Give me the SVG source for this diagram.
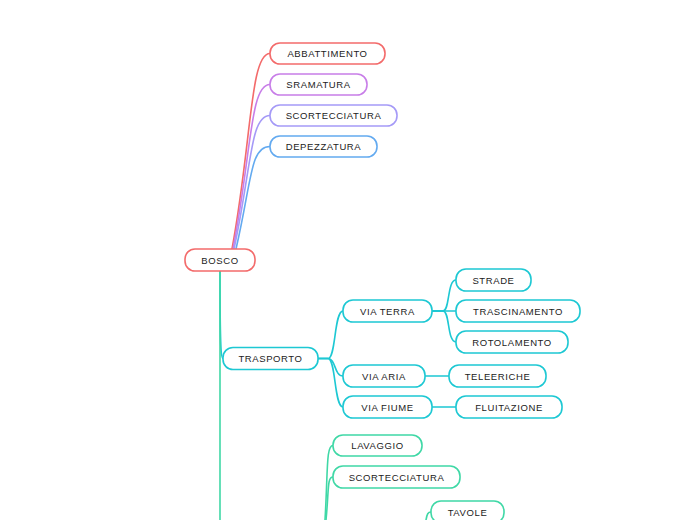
<svg xmlns="http://www.w3.org/2000/svg" width="697" height="520" viewBox="0 0 697 520">
<style>
.n rect{fill:#fff;stroke-width:1.6}
.n text{font-family:"Liberation Sans",Arial,sans-serif;font-size:9.5px;letter-spacing:0.6px;fill:#222;text-anchor:middle;dominant-baseline:central}
.red rect{stroke:#f36b6b}
.pur rect{stroke:#c87ee8}
.lav rect{stroke:#a59af7}
.blu rect{stroke:#63aaf0}
.tea rect{stroke:#1dc8d3}
.grn rect{stroke:#3fd8a6}
#connectors path{fill:none;stroke-width:1.6;stroke-linecap:round}
</style>
<rect width="697" height="520" fill="#fff"/>
<g id="connectors">
  <path d="M232,249 C252,140 250,53.5 270,53.5" stroke="#f36b6b" stroke-width="2.2"/>
  <path d="M233,249 C252,150 250,84.5 270,84.5" stroke="#c87ee8" stroke-width="1.8"/>
  <path d="M234,249 C252,165 250,115.5 270,115.5" stroke="#a59af7" stroke-width="1.8"/>
  <path d="M236,249 C252,180 250,146.5 270,146.5" stroke="#63aaf0" stroke-width="1.8"/>
  <path d="M220,271 C220,330 220,358.5 223,358.5" stroke="#1dc8d3" stroke-width="2.6"/>
  <path d="M220,271 L220,520" stroke="#3fd8a6" stroke-width="2.8"/>
  <path d="M318,358.5 L328,358.5 C336,358.5 334,311 343,311" stroke="#1dc8d3"/>
  <path d="M318,358.5 L328,358.5 C336,358.5 334,376 343,376" stroke="#1dc8d3"/>
  <path d="M318,358.5 L328,358.5 C336,358.5 334,407 343,407" stroke="#1dc8d3"/>
  <path d="M432,311 L443,311 C450,311 447,280 456,280" stroke="#1dc8d3"/>
  <path d="M432,311 L456,311" stroke="#1dc8d3"/>
  <path d="M432,311 L443,311 C450,311 447,342 456,342" stroke="#1dc8d3"/>
  <path d="M425,376 L449,376" stroke="#1dc8d3"/>
  <path d="M432,407 L456,407" stroke="#1dc8d3"/>
  <path d="M325,520 C328,470 326,445.5 333,445.5" stroke="#3fd8a6"/>
  <path d="M326,520 C329,490 327,477 333,477" stroke="#3fd8a6"/>
  <path d="M426,520 C427,514 428,512 431,512" stroke="#3fd8a6"/>
</g>
<g id="n-abbattimento" class="n red"><rect x="270" y="43" width="115" height="21" rx="10"/><text x="327.5" y="53.5">ABBATTIMENTO</text></g>
<g id="n-sramatura" class="n pur"><rect x="270" y="74" width="97" height="21" rx="10"/><text x="318.5" y="84.5">SRAMATURA</text></g>
<g id="n-scortecciatura1" class="n lav"><rect x="270" y="105" width="127" height="21" rx="10"/><text x="333.5" y="115.5">SCORTECCIATURA</text></g>
<g id="n-depezzatura" class="n blu"><rect x="270" y="136" width="107" height="21" rx="10"/><text x="323.5" y="146.5">DEPEZZATURA</text></g>
<g id="n-bosco" class="n red"><rect x="185" y="249" width="70" height="22" rx="10"/><text x="220" y="260">BOSCO</text></g>
<g id="n-trasporto" class="n tea"><rect x="223" y="347.5" width="95" height="22" rx="10"/><text x="270.5" y="358.5">TRASPORTO</text></g>
<g id="n-viaterra" class="n tea"><rect x="343" y="300" width="89" height="22" rx="10"/><text x="387.5" y="311">VIA TERRA</text></g>
<g id="n-strade" class="n tea"><rect x="456" y="269" width="75" height="22" rx="10"/><text x="493.5" y="280">STRADE</text></g>
<g id="n-trascinamento" class="n tea"><rect x="456" y="300" width="124" height="22" rx="10"/><text x="518" y="311">TRASCINAMENTO</text></g>
<g id="n-rotolamento" class="n tea"><rect x="456" y="331" width="112" height="22" rx="10"/><text x="512" y="342">ROTOLAMENTO</text></g>
<g id="n-viaaria" class="n tea"><rect x="343" y="365" width="82" height="22" rx="10"/><text x="384" y="376">VIA ARIA</text></g>
<g id="n-teleeriche" class="n tea"><rect x="449" y="365" width="97" height="22" rx="10"/><text x="497.5" y="376">TELEERICHE</text></g>
<g id="n-viafiume" class="n tea"><rect x="343" y="396" width="89" height="22" rx="10"/><text x="387.5" y="407">VIA FIUME</text></g>
<g id="n-fluitazione" class="n tea"><rect x="456" y="396" width="106" height="22" rx="10"/><text x="509" y="407">FLUITAZIONE</text></g>
<g id="n-lavaggio" class="n grn"><rect x="333" y="435" width="89" height="21" rx="10"/><text x="377.5" y="445.5">LAVAGGIO</text></g>
<g id="n-scortecciatura2" class="n grn"><rect x="333" y="466" width="127" height="22" rx="10"/><text x="396.5" y="477">SCORTECCIATURA</text></g>
<g id="n-tavole" class="n grn"><rect x="431" y="501" width="73" height="22" rx="10"/><text x="467.5" y="512">TAVOLE</text></g>
</svg>
